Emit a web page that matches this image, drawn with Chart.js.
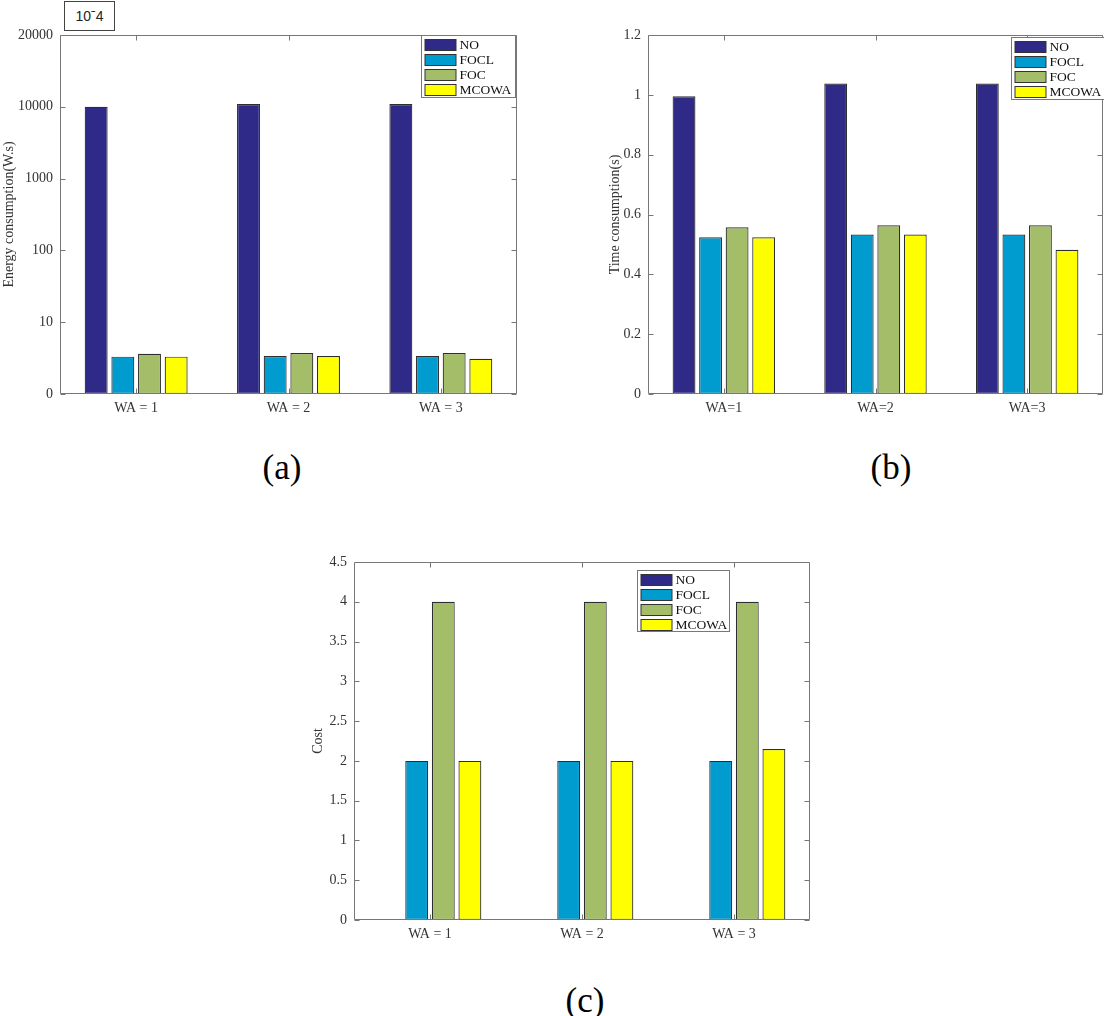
<!DOCTYPE html>
<html>
<head>
<meta charset="utf-8">
<script src="https://cdn.jsdelivr.net/npm/chart.js@4.4.1/dist/chart.umd.min.js"></script>
<style>
  html, body { margin: 0; padding: 0; background: #fff; }
  body { width: 1104px; height: 1016px; position: relative; overflow: hidden; }
  .cv { position: absolute; }
  .panel { position: absolute; font-family: 'Liberation Serif', 'Times New Roman', serif; font-size: 35px; color: #000; transform: translate(-50%, -50%); line-height: 1; }
  #scaleBox { position: absolute; left: 64px; top: 1px; width: 51px; height: 30px; border: 1px solid #444; box-sizing: border-box;
    font-family: 'Liberation Sans', Arial, sans-serif; font-size: 14px; color: #222; display: flex; align-items: center; justify-content: center; }
</style>
</head>
<body>
<div id="scaleBox">10ˉ4</div>
<canvas id="chartA" class="cv" width="552" height="430" style="left:0px;top:0px;"></canvas>
<canvas id="chartB" class="cv" width="504" height="430" style="left:600px;top:0px;"></canvas>
<canvas id="chartC" class="cv" width="540" height="430" style="left:300px;top:520px;"></canvas>
<div class="panel" style="left:282px;top:467px;">(a)</div>
<div class="panel" style="left:891px;top:467px;">(b)</div>
<div class="panel" style="left:585px;top:1000px;">(c)</div>
<script>
// ---------------- DATA ----------------
const seriesNames = ['NO', 'FOCL', 'FOC', 'MCOWA'];
const categoriesA = ['WA = 1', 'WA = 2', 'WA = 3'];
const categoriesB = ['WA=1', 'WA=2', 'WA=3'];
const categoriesC = ['WA = 1', 'WA = 2', 'WA = 3'];

const energyNO    = [10000, 10400, 10400];
const energyFOCL  = [5.2, 5.3, 5.3];
const energyFOC   = [5.6, 5.7, 5.7];
const energyMCOWA = [5.2, 5.3, 4.9];
const energyTicks = [0, 10, 100, 1000, 10000, 20000];

const timeNO    = [0.995, 1.038, 1.038];
const timeFOCL  = [0.524, 0.533, 0.533];
const timeFOC   = [0.557, 0.564, 0.564];
const timeMCOWA = [0.524, 0.533, 0.482];

const costNO    = [0, 0, 0];
const costFOCL  = [2, 2, 2];
const costFOC   = [4, 4, 4];
const costMCOWA = [2, 2, 2.15];

// ---------------- STYLE ----------------
const seriesColors = ['#2f2a87', '#009bcf', '#a4bd68', '#ffff00'];
const SERIF = "'Liberation Serif', 'Times New Roman', serif";
const tickFont = { family: SERIF, size: 14 };
const textColor = '#333';
const axisColor = '#777';

// Piecewise "decade" axis used by panel (a): equally spaced ticks 0,10,100,1000,10000,20000
function energyPos(v) {
  if (v <= 10) return v / 10;
  if (v <= 10000) return Math.log10(v);
  return 4 + (v - 10000) / 10000;
}
class StepLogScale extends Chart.LinearScale {
  determineDataLimits() { this.min = 0; this.max = energyPos(energyTicks[energyTicks.length - 1]); }
  buildTicks() { return energyTicks.map(v => ({ value: v })); }
  getPixelForValue(v) { return v === null ? NaN : super.getPixelForValue(energyPos(v)); }
}
StepLogScale.id = 'steplog';
StepLogScale.defaults = Chart.LinearScale.defaults;
Chart.register(StepLogScale);

// MATLAB-like box, inward ticks and inside legend
const matlabAxes = {
  id: 'matlabAxes',
  afterDraw(chart, args, opts) {
    const { ctx, chartArea: a, scales: { x, y } } = chart;
    ctx.save();
    ctx.strokeStyle = axisColor;
    ctx.lineWidth = 1;
    const L = Math.round(a.left) + 0.5, R = Math.round(a.right) - 0.5;
    const T = Math.round(a.top) + 0.5, B = Math.round(a.bottom) - 0.5;
    ctx.beginPath();
    ctx.rect(L, T, R - L, B - T);
    const tl = 5;
    y.ticks.forEach((t, i) => {
      const py = Math.round(y.getPixelForTick(i)) + 0.5;
      ctx.moveTo(L, py); ctx.lineTo(L + tl, py);
      ctx.moveTo(R, py); ctx.lineTo(R - tl, py);
    });
    x.ticks.forEach((t, i) => {
      const px = Math.round(x.getPixelForTick(i)) + 0.5;
      ctx.moveTo(px, B); ctx.lineTo(px, B - tl);
      ctx.moveTo(px, T); ctx.lineTo(px, T + tl);
    });
    ctx.stroke();

    // legend
    const lg = opts.legend;
    if (lg) {
      const bx = Math.round(a.right - lg.right - lg.width) + 0.5;
      const by = Math.round(a.top + lg.top) + 0.5;
      ctx.fillStyle = '#fff';
      ctx.fillRect(bx, by, lg.width, lg.height);
      ctx.strokeStyle = axisColor;
      ctx.strokeRect(bx, by, lg.width, lg.height);
      ctx.font = '13.5px ' + SERIF;
      ctx.textBaseline = 'middle';
      ctx.textAlign = 'left';
      chart.data.datasets.forEach((ds, i) => {
        const sy = Math.round(by + 3 + i * 15.2);
        ctx.fillStyle = ds.backgroundColor;
        ctx.fillRect(bx + 3.5, sy, 31, 11);
        ctx.strokeStyle = '#333';
        ctx.strokeRect(bx + 3.5, sy + 0.5, 31, 11);
        ctx.fillStyle = '#111';
        ctx.fillText(ds.label, bx + 38, sy + 6);
      });
    }
    ctx.restore();
  }
};

function makeDatasets(arrays) {
  return arrays.map((arr, i) => ({
    label: seriesNames[i],
    data: arr,
    backgroundColor: seriesColors[i],
    borderColor: '#2e2e2e',
    borderWidth: 1.2,
    borderSkipped: false,
    categoryPercentage: 0.70,
    barPercentage: 0.86
  }));
}

function makeChart(id, labels, arrays, cfg) {
  const yScale = Object.assign({
    grid: { display: false, drawTicks: false },
    border: { display: false },
    ticks: { font: tickFont, color: textColor, padding: 7 },
    title: { display: true, text: cfg.yTitle, font: tickFont, color: textColor, padding: { top: cfg.titlePad, bottom: 0 } },
    afterFit: s => { s.width = cfg.yWidth; }
  }, cfg.y);
  yScale.ticks = Object.assign(yScale.ticks, cfg.yTicks || {});
  return new Chart(document.getElementById(id), {
    type: 'bar',
    data: { labels: labels, datasets: makeDatasets(arrays) },
    options: {
      responsive: false,
      animation: false,
      layout: { padding: cfg.padding },
      plugins: {
        legend: { display: false },
        tooltip: { enabled: false },
        matlabAxes: { legend: cfg.legend }
      },
      scales: {
        x: {
          type: 'category',
          offset: true,
          grid: { display: false, drawTicks: false },
          border: { display: false },
          ticks: { font: tickFont, color: textColor, padding: 6, maxRotation: 0, autoSkip: false },
          afterFit: s => { s.height = cfg.xHeight; }
        },
        y: yScale
      }
    },
    plugins: [matlabAxes]
  });
}

// (a) Energy consumption
makeChart('chartA', categoriesA, [energyNO, energyFOCL, energyFOC, energyMCOWA], {
  yTitle: 'Energy consumption(W.s)',
  titlePad: 1,
  yWidth: 60,
  xHeight: 36,
  padding: { left: 0, top: 35, right: 35, bottom: 0 },
  y: { type: 'steplog' },
  yTicks: { callback: v => String(v) },
  legend: { right: 2, top: 0, width: 94, height: 62 }
});

// (b) Time consumption
makeChart('chartB', categoriesB, [timeNO, timeFOCL, timeFOC, timeMCOWA], {
  yTitle: 'Time consumption(s)',
  titlePad: 7,
  yWidth: 48,
  xHeight: 36,
  padding: { left: 0, top: 35, right: 1, bottom: 0 },
  y: { type: 'linear', min: 0, max: 1.2 },
  yTicks: { stepSize: 0.2, callback: v => String(Math.round(v * 10) / 10) },
  legend: { right: -2, top: 2, width: 94, height: 62 }
});

// (c) Cost
makeChart('chartC', categoriesC, [costNO, costFOCL, costFOC, costMCOWA], {
  yTitle: 'Cost',
  titlePad: 10,
  yWidth: 54,
  xHeight: 30,
  padding: { left: 0, top: 42, right: 30, bottom: 0 },
  y: { type: 'linear', min: 0, max: 4.5 },
  yTicks: { stepSize: 0.5, callback: v => String(Math.round(v * 10) / 10) },
  legend: { right: 81, top: 8, width: 92, height: 61 }
});
</script>
</body>
</html>
